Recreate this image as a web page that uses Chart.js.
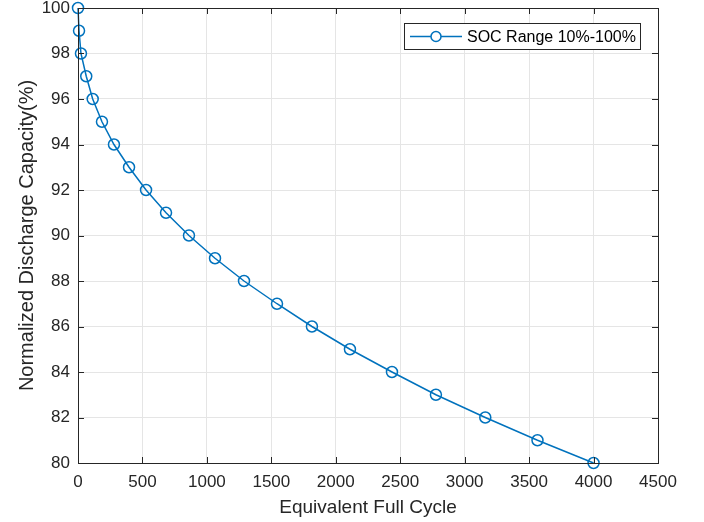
<!DOCTYPE html>
<html lang="en">
<head>
  <meta charset="UTF-8">
  <title>Normalized Discharge Capacity</title>
  <script src="https://cdn.jsdelivr.net/npm/chart.js"></script>
  <style>
    body { margin: 0; background: #ffffff; }
    #wrap { width: 704px; height: 522px; }
  </style>
</head>
<body>
  <div id="wrap"><canvas id="chart" width="704" height="522"></canvas></div>
  <script>
    const cycles = [0, 8, 23, 64, 114, 186, 279, 396, 528, 683, 861, 1063, 1288, 1544, 1815, 2110, 2436, 2777, 3160, 3565, 4000];
    const capacity = [100, 99, 98, 97, 96, 95, 94, 93, 92, 91, 90, 89, 88, 87, 86, 85, 84, 83, 82, 81, 80];
    const seriesName = "SOC Range 10%-100%";
    const xLabel = "Equivalent Full Cycle";
    const yLabel = "Normalized Discharge Capacity(%)";

    const BLUE = "#0072BD";
    const AXIS = "#262626";
    const FONT = "'Liberation Sans', Arial, sans-serif";

    // frame, inward ticks and legend box like the matlab figure
    const framePlugin = {
      id: "frame",
      afterDraw(chart) {
        const { ctx, chartArea: a, scales } = chart;
        ctx.save();
        ctx.strokeStyle = AXIS;
        ctx.lineWidth = 1;
        ctx.strokeRect(a.left + 0.5, a.top + 0.5, a.right - a.left, a.bottom - a.top);
        ctx.beginPath();
        scales.x.ticks.forEach(t => {
          const px = Math.round(scales.x.getPixelForValue(t.value)) + 0.5;
          ctx.moveTo(px, a.bottom); ctx.lineTo(px, a.bottom - 6);
          ctx.moveTo(px, a.top); ctx.lineTo(px, a.top + 6);
        });
        scales.y.ticks.forEach(t => {
          const py = Math.round(scales.y.getPixelForValue(t.value)) + 0.5;
          ctx.moveTo(a.left, py); ctx.lineTo(a.left + 6, py);
          ctx.moveTo(a.right, py); ctx.lineTo(a.right - 6, py);
        });
        ctx.stroke();

        // legend
        const lx = 404, ly = 23, lw = 236, lh = 26;
        ctx.fillStyle = "#ffffff";
        ctx.fillRect(lx, ly, lw, lh);
        ctx.strokeStyle = AXIS;
        ctx.strokeRect(lx + 0.5, ly + 0.5, lw, lh);
        const my = ly + lh / 2 + 0.5;
        ctx.strokeStyle = BLUE;
        ctx.lineWidth = 1.5;
        ctx.beginPath();
        ctx.moveTo(410, my); ctx.lineTo(462, my);
        ctx.stroke();
        ctx.beginPath();
        ctx.arc(436, my, 5, 0, Math.PI * 2);
        ctx.fillStyle = "#ffffff";
        ctx.fill();
        ctx.stroke();
        ctx.fillStyle = "#000000";
        ctx.font = "16px " + FONT;
        ctx.textBaseline = "middle";
        ctx.fillText(seriesName, 467, my + 1);
        ctx.restore();
      }
    };

    new Chart(document.getElementById("chart"), {
      type: "line",
      data: {
        datasets: [{
          label: seriesName,
          data: cycles.map((c, i) => ({ x: c, y: capacity[i] })),
          borderColor: BLUE,
          borderWidth: 1.5,
          pointRadius: 5.5,
          pointBorderWidth: 1.5,
          pointBackgroundColor: "rgba(255,255,255,0)",
          pointBorderColor: BLUE,
          tension: 0,
          fill: false,
          clip: false
        }]
      },
      options: {
        responsive: false,
        animation: false,
        layout: { padding: { left: 15, top: 8, right: 46, bottom: 0 } },
        plugins: {
          legend: { display: false },
          tooltip: { enabled: false }
        },
        scales: {
          x: {
            type: "linear",
            min: 0, max: 4500,
            ticks: { stepSize: 500, color: AXIS, font: { size: 17, family: FONT }, padding: 9, maxRotation: 0,
                     callback: v => String(v) },
            grid: { color: "#e5e5e5", drawTicks: false },
            border: { display: false },
            title: { display: true, text: xLabel, color: AXIS, font: { size: 19, family: FONT }, padding: { top: 0, bottom: 3 } },
            afterFit(s) { s.height = 59; s.paddingLeft = 0; s.paddingRight = 0; }
          },
          y: {
            min: 80, max: 100,
            ticks: { stepSize: 2, color: AXIS, font: { size: 17, family: FONT }, padding: 8 },
            grid: { color: "#e5e5e5", drawTicks: false },
            border: { display: false },
            title: { display: true, text: yLabel, color: AXIS, font: { size: 20, family: FONT }, padding: { top: 0, bottom: 0 } },
            afterFit(s) { s.width = 63; s.paddingTop = 0; s.paddingBottom = 0; }
          }
        }
      },
      plugins: [framePlugin]
    });
  </script>
</body>
</html>
